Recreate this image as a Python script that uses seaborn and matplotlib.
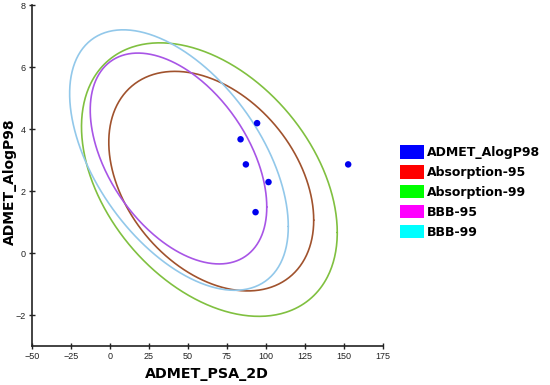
import numpy as np
import pandas as pd
import matplotlib
matplotlib.use("Agg")
import matplotlib.pyplot as plt
from matplotlib.patches import Patch
import seaborn as sns

# compound points
psa = [94.4, 83.8, 87.2, 101.7, 152.8, 93.4]
alogp = [4.19, 3.67, 2.86, 2.29, 2.86, 1.32]

# ellipse definitions: center x/y, half width (x), half height (y), correlation
ell_names = ["Absorption-95", "Absorption-99", "BBB-95", "BBB-99"]
ell_cx = [65.0, 63.8, 44.0, 44.3]
ell_cy = [2.32, 2.37, 3.05, 3.0]
ell_sx = [65.7, 82.0, 56.6, 70.1]
ell_sy = [3.54, 4.41, 3.4, 4.2]
ell_r = [-0.355, -0.387, -0.46, -0.51]
line_colors = ["#a0522d", "#80c040", "#a855e6", "#92c8ea"]

legend_labels = ["ADMET_AlogP98", "Absorption-95", "Absorption-99", "BBB-95", "BBB-99"]
legend_colors = ["#0000ff", "#ff0000", "#00ff00", "#ff00ff", "#00ffff"]

sns.set_style("white")
plt.rcParams["font.family"] = ["DejaVu Sans"]

fig = plt.figure(figsize=(5.5, 3.85), dpi=100)
ax = fig.add_axes([0.058, 0.101, 0.638, 0.886])

t = np.linspace(0, 2 * np.pi, 400)
for i in range(len(ell_names)):
    sx, sy, r = ell_sx[i], ell_sy[i], ell_r[i]
    cov = np.array([[sx * sx, r * sx * sy], [r * sx * sy, sy * sy]])
    L = np.linalg.cholesky(cov)
    pts = L @ np.vstack([np.cos(t), np.sin(t)])
    ax.plot(ell_cx[i] + pts[0], ell_cy[i] + pts[1], color=line_colors[i], lw=1.2)

df = pd.DataFrame({"ADMET_PSA_2D": psa, "ADMET_AlogP98": alogp})
sns.scatterplot(data=df, x="ADMET_PSA_2D", y="ADMET_AlogP98", ax=ax,
                color="#0000ee", s=22, edgecolor="none", zorder=5)

ax.set_xlim(-50, 175)
ax.set_ylim(-3, 8)
ax.set_xticks(range(-50, 176, 25))
ax.set_yticks(range(-2, 9, 2))
ax.tick_params(bottom=True, left=True, direction="inout", length=5, width=1,
               labelsize=6.5, colors="#222222", pad=2)
for lab in ax.get_xticklabels() + ax.get_yticklabels():
    lab.set_fontfamily(["Liberation Sans", "DejaVu Sans"])
for s in ["top", "right"]:
    ax.spines[s].set_visible(False)
for s in ["left", "bottom"]:
    ax.spines[s].set_color("#222222")
    ax.spines[s].set_linewidth(1.2)
ax.set_xlabel("ADMET_PSA_2D", fontsize=10.3, fontweight="bold", color="black")
ax.set_ylabel("ADMET_AlogP98", fontsize=10, fontweight="bold", color="black")
ax.xaxis.set_label_coords(0.5, -0.082)
ax.xaxis.label.set_va("center")
ax.yaxis.set_label_coords(-0.063, 0.481)
ax.yaxis.label.set_va("center")

handles = [Patch(facecolor=c, edgecolor="none") for c in legend_colors]
leg = fig.legend(handles, legend_labels, loc="upper left", bbox_to_anchor=(0.727, 0.623),
                 frameon=False, prop={"family": "DejaVu Sans", "weight": "bold", "size": 9},
                 borderpad=0, borderaxespad=0,
                 handlelength=1.92, handleheight=1.28, labelspacing=0.48, handletextpad=0.25)
for txt in leg.get_texts():
    txt.set_color("black")

fig.savefig("out.png", dpi=100)
